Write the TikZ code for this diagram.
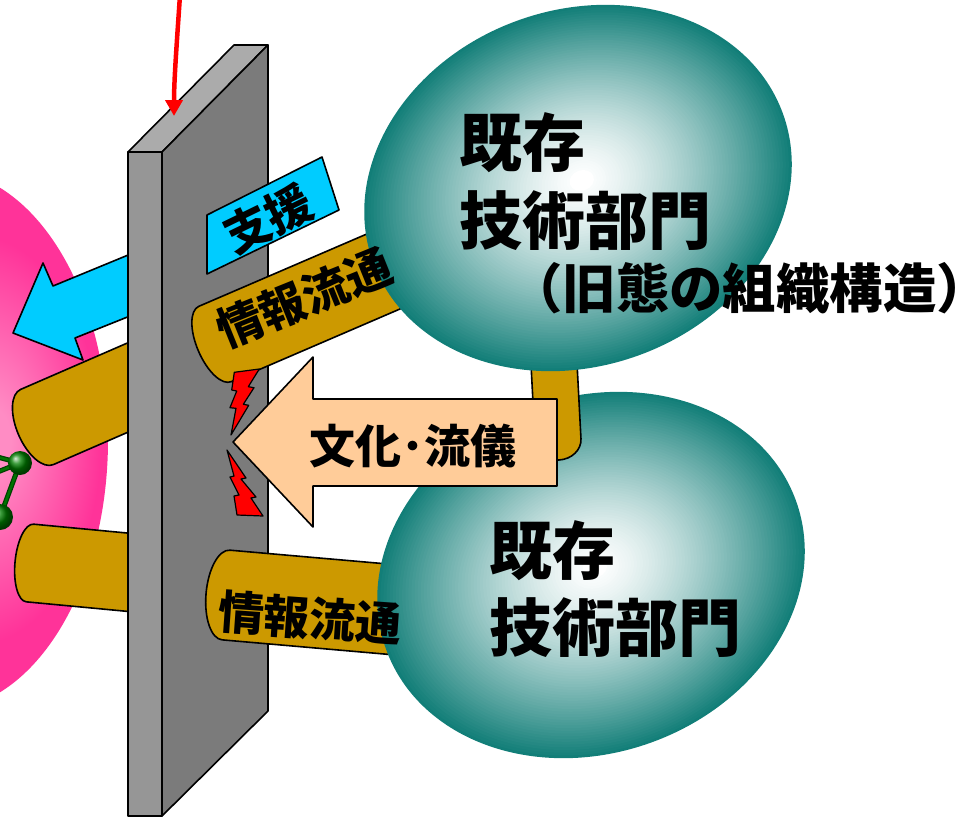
\documentclass[tikz,border=0pt]{standalone}
\usepackage{fontspec}
\newfontfamily\jp{Noto Sans CJK JP}
\usetikzlibrary{arrows.meta}

\definecolor{gold}{HTML}{CC9900}
\definecolor{skyblue}{HTML}{00CCFF}
\definecolor{peach}{HTML}{FFCC99}
\definecolor{tealc}{RGB}{18,126,120}
\definecolor{hotpink}{HTML}{FF3399}
\definecolor{softpink}{HTML}{FF8CC4}
\definecolor{wallfront}{HTML}{969696}
\definecolor{walltop}{HTML}{ABABAB}
\definecolor{wallside}{HTML}{7B7B7B}
\definecolor{boltred}{HTML}{FF0000}

% the path's edge sits at 25bp of a fitted radial shading
\pgfdeclareradialshading{pinkglow}{\pgfpoint{8bp}{0bp}}{%
  color(0bp)=(softpink); color(3bp)=(softpink); color(19bp)=(hotpink);
  color(25bp)=(hotpink); color(50bp)=(hotpink)}

% a tube: cap centre x, y, angle, length, half thickness, cap depth
\newcommand\tube[6]{%
  \filldraw[tubeface, shift={(#1,#2)}, rotate=#3]
    (0,-#5) -- (#4,-#5) -- (#4,#5) -- (0,#5)
    arc[start angle=90, end angle=270, x radius=#6, y radius=#5] -- cycle;}

% a glowing department: centre x, y; tilt 20 degrees, white core
\newcommand\dept[2]{%
  \foreach \i in {0,...,69}{%
    \pgfmathsetmacro\rr{1-\i/70}%
    \pgfmathsetmacro\pp{\rr<0.07 ? 0 : 100*(\rr^1.4)}%
    \pgfmathsetmacro\cx{#1+4*(1-\rr)}%
    \pgfmathsetmacro\cy{#2-8*(1-\rr)}%
    \fill[tealc!\pp!white, rotate around={20:(\cx,\cy)}]
      (\cx,\cy) ellipse[x radius=218*\rr, y radius=178*\rr];
  }}

\tikzset{
  outline/.style={draw=black, line width=1.6pt, line join=round},
  tubeface/.style={outline, fill=gold},
  wallface/.style={outline},
  bolt/.style={outline, line width=1.2pt, fill=boltred},
  stick/.style={draw=green!25!black, line width=5pt, line cap=round},
  stickcore/.style={draw=green!45!black, line width=2.5pt, line cap=round},
  lbl/.style={font={\jp\bfseries\fontsize{46}{50}\selectfont}, inner sep=0pt},
  biglbl/.style={font={\jp\bfseries\fontsize{63}{77}\selectfont}, inner sep=0pt, anchor=west},
  midlbl/.style={font={\jp\bfseries\fontsize{53.4}{58}\selectfont}, inner sep=0pt, anchor=west},
  pointer/.style={draw=boltred, line width=4.5pt, -{Triangle[length=16pt, width=17pt]}},
}

\begin{document}
\begin{tikzpicture}[x=1pt, y=-1pt]
\useasboundingbox (0,0) rectangle (973,817);
\clip (0,0) rectangle (973,817);

% new organisation (pink body)
\shade[shading=pinkglow] (-60,440) ellipse[x radius=168, y radius=270];

% molecule
\draw[stick] (-10,455) -- (20,463);
\draw[stick] (-10,475) -- (20,463);
\draw[stick] (20,463) -- (0,517);
\draw[stickcore] (-10,455) -- (20,463);
\draw[stickcore] (-10,475) -- (20,463);
\draw[stickcore] (20,463) -- (0,517);
\shade[ball color=green!50!black] (20,463) circle[radius=12];
\shade[ball color=green!50!black] (0,517) circle[radius=13];

% support arrow, part on the far side of the wall
\filldraw[outline, fill=skyblue] (13,333) -- (43,263) -- (53,286) -- (150,246)
  -- (150,308) -- (75,338) -- (83,360) -- cycle;

% tubes on the far side of the wall
\tube{37}{427}{23.5}{120}{41}{20}
\tube{30}{563}{-5.4}{120}{39}{15}

% the wall
\filldraw[wallface, fill=wallfront] (128,152) -- (162,152) -- (162,816) -- (128,816) -- cycle;
\filldraw[wallface, fill=walltop] (128,152) -- (234,45) -- (268,45) -- (162,152) -- cycle;
\filldraw[wallface, fill=wallside] (162,152) -- (268,45) -- (268,711) -- (162,816) -- cycle;

% pointer from above
\coordinate (ptrstart) at (180,-5);
\coordinate (ptrend) at (174,116);
\draw[pointer] (ptrstart) .. controls (177,40) and (174,80) .. (ptrend);

% support arrow, front part
\filldraw[outline, fill=skyblue] (207,215) -- (322,157) -- (339,210) -- (207,274) -- cycle;

% tubes in front of the wall
\tube{215}{344}{23.3}{260}{41}{18}
\tube{226}{595}{-5}{200}{45}{20}

% lower department
\dept{591}{575}

% tube between the two departments
\tube{558}{440}{93}{130}{23}{20}

% upper department
\dept{578}{188}

% culture arrow
\filldraw[outline, fill=peach] (233,442) -- (313,357) -- (313,399) -- (557,399)
  -- (557,486) -- (313,486) -- (313,527) -- cycle;

% friction bolts
\filldraw[bolt] (234.3,372.3) -- (259.3,369) -- (248.3,386.7) -- (254,387.7)
  -- (243.3,404.3) -- (248.7,405.3) -- (231,435) -- (236,408.3) -- (230,407.7)
  -- (236.7,391) -- (231.7,390) -- cycle;
\filldraw[bolt] (227,450) -- (246,478) -- (241,479) -- (256,497) -- (251,498)
  -- (263,516) -- (237,515) -- (234,496) -- (239,495) -- (230,477) -- (234,476)
  -- cycle;

% labels
\node[lbl, rotate=26] (shien) at (268,219) {支援};
\node[lbl, rotate=22] (ryutsu1) at (304,298) {情報流通};
\node[lbl, rotate=-4] (ryutsu2) at (310,618) {情報流通};
\node[lbl] (bunka) at (413,446) {文化･流儀};
\node[biglbl] (kizon1) at (459,143) {既存};
\node[biglbl] (bumon1) at (459,221) {技術部門};
\node[midlbl] (kyutai) at (509,288) {（旧態の組織構造）\kern-0.6em};
\node[biglbl] (kizon2) at (489,551) {既存};
\node[biglbl] (bumon2) at (489,628) {技術部門};
\end{tikzpicture}
\end{document}
